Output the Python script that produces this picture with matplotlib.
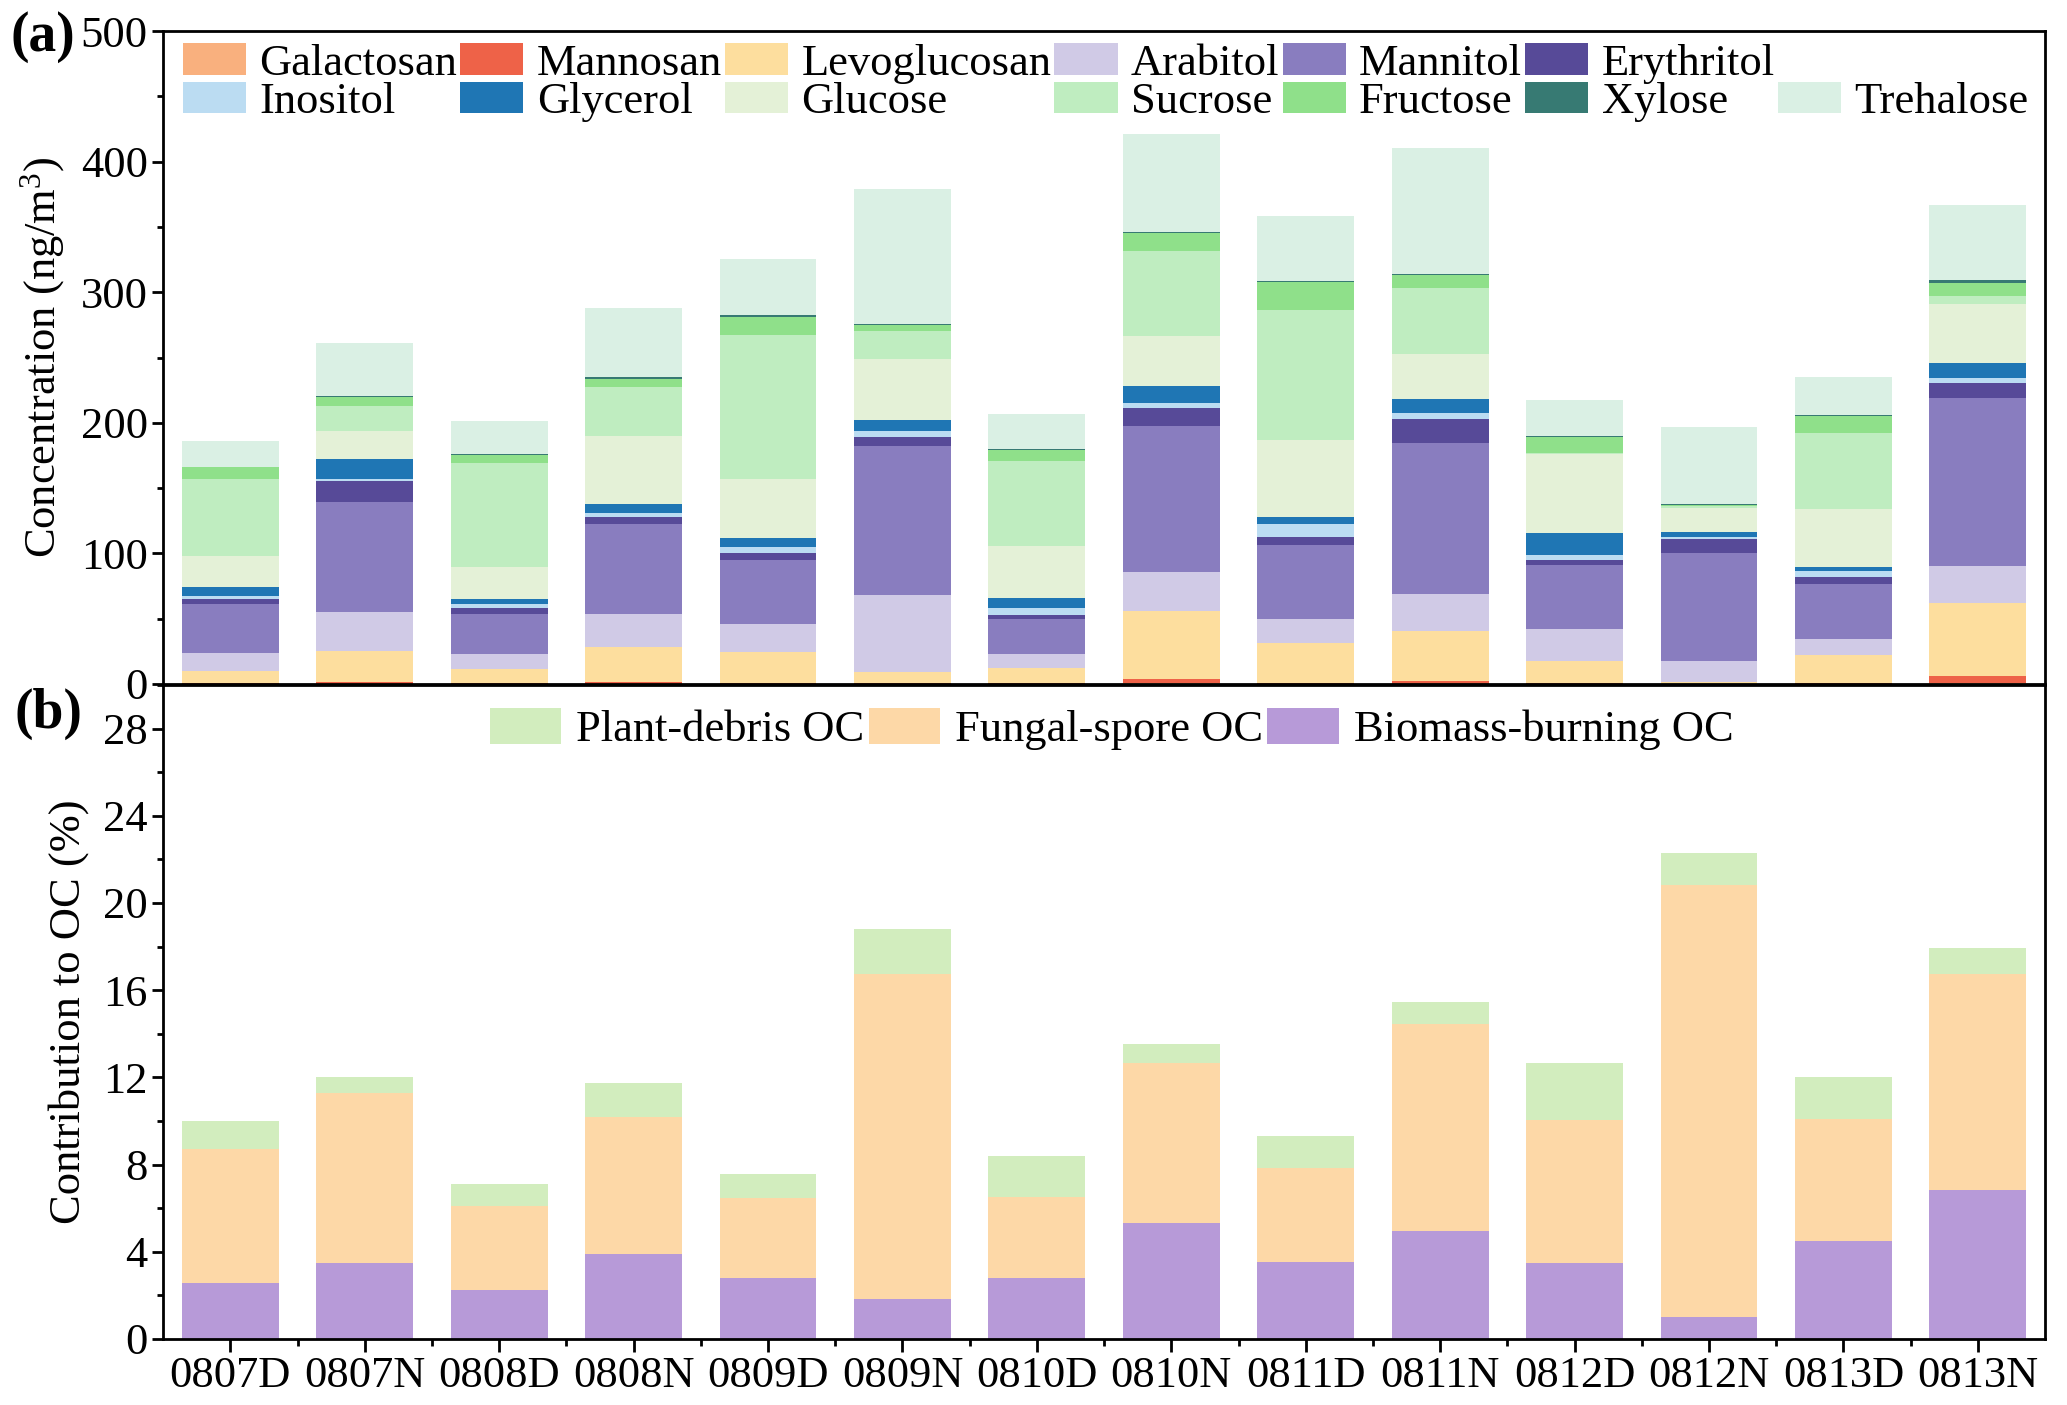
import numpy as np
import matplotlib
matplotlib.use("Agg")
from matplotlib import pyplot as plt
from matplotlib.patches import Rectangle
from matplotlib.ticker import MultipleLocator

plt.rcParams['font.family'] = ['Liberation Serif', 'DejaVu Serif']
plt.rcParams['mathtext.fontset'] = 'custom'
plt.rcParams['mathtext.rm'] = 'Liberation Serif'

samples = ['0807D', '0807N', '0808D', '0808N', '0809D', '0809N', '0810D',
           '0810N', '0811D', '0811N', '0812D', '0812N', '0813D', '0813N']

# panel (a) concentrations, ng/m3 (stacked bottom -> top)
galactosan   = [0.3, 0.3, 0.2, 0.3, 0.3, 0.2, 0.2, 0.5, 0.3, 0.3, 0.2, 0.1, 0.2, 0.5]
mannosan     = [0.3, 1.0, 0.3, 1.0, 0.5, 0.3, 0.3, 3.0, 0.5, 1.7, 0.3, 0.2, 0.3, 5.5]
levoglucosan = [9.7, 23.7, 10.8, 26.7, 23.8, 8.4, 11.8, 52.2, 30.6, 38.3, 17.3, 1.4, 21.7, 55.9]
arabitol     = [13.3, 30.0, 11.7, 25.3, 21.4, 59.5, 10.6, 30.1, 18.5, 28.7, 24.2, 16.1, 12.0, 28.3]
mannitol     = [37.4, 84.0, 30.7, 69.0, 49.0, 113.8, 26.7, 111.7, 56.4, 115.9, 49.3, 82.3, 42.7, 128.5]
erythritol   = [4.0, 16.5, 4.3, 5.2, 5.0, 6.8, 3.4, 13.7, 6.1, 17.8, 3.4, 10.9, 5.1, 12.0]
inositol     = [2.0, 1.5, 3.0, 3.5, 5.0, 4.4, 5.4, 4.1, 10.3, 5.1, 4.4, 1.8, 4.5, 3.4]
glycerol     = [7.0, 15.0, 4.3, 6.7, 6.8, 8.6, 7.2, 13.0, 5.1, 10.2, 16.4, 3.4, 2.7, 11.9]
glucose      = [24.0, 21.5, 24.2, 52.3, 45.2, 46.8, 40.4, 38.3, 58.8, 34.9, 60.9, 18.8, 44.8, 44.8]
sucrose      = [59.0, 19.5, 79.5, 37.6, 110.6, 21.2, 65.0, 65.3, 99.8, 50.6, 0.6, 1.4, 58.0, 6.2]
fructose     = [9.0, 7.0, 6.7, 6.2, 13.4, 5.0, 8.4, 13.3, 21.2, 9.9, 12.0, 1.0, 13.0, 10.2]
xylose       = [0.5, 0.5, 0.6, 1.0, 1.6, 0.8, 0.6, 1.0, 1.0, 0.6, 0.7, 0.3, 1.0, 2.1]
trehalose    = [19.5, 40.5, 24.7, 53.0, 42.8, 102.9, 26.4, 75.2, 49.9, 96.5, 28.0, 58.8, 28.8, 57.4]

# panel (b) contribution to OC, %
biomass_oc = [2.59, 3.50, 2.23, 3.89, 2.78, 1.83, 2.78, 5.33, 3.55, 4.95, 3.50, 1.02, 4.50, 6.82]
fungal_oc  = [6.12, 7.76, 3.85, 6.27, 3.70, 14.91, 3.74, 7.35, 4.27, 9.52, 6.53, 19.82, 5.59, 9.92]
plant_oc   = [1.29, 0.74, 1.04, 1.59, 1.10, 2.06, 1.85, 0.85, 1.51, 0.98, 2.65, 1.45, 1.93, 1.21]

species = [
    ('Galactosan', galactosan, '#F9B07E'),
    ('Mannosan', mannosan, '#EE6248'),
    ('Levoglucosan', levoglucosan, '#FDDE9E'),
    ('Arabitol', arabitol, '#D0CAE6'),
    ('Mannitol', mannitol, '#897DBF'),
    ('Erythritol', erythritol, '#574A98'),
    ('Inositol', inositol, '#BBDCF2'),
    ('Glycerol', glycerol, '#1F76B4'),
    ('Glucose', glucose, '#E4F1D7'),
    ('Sucrose', sucrose, '#BFEDC0'),
    ('Fructose', fructose, '#8FE08A'),
    ('Xylose', xylose, '#377A73'),
    ('Trehalose', trehalose, '#DAF0E4'),
]

FS = 32
x = np.arange(len(samples))
w = 0.72

fig = plt.figure(figsize=(20.67, 14.05), dpi=100)
ax1 = fig.add_axes([0.0789, 0.5132, 0.9105, 0.4647])
ax2 = fig.add_axes([0.0789, 0.0470, 0.9105, 0.4655])

# --- (a)
bottom = np.zeros(len(samples))
handles = {}
for name, vals, col in species:
    vals = np.array(vals)
    b = ax1.bar(x, vals, w, bottom=bottom, color=col, linewidth=0, label=name)
    handles[name] = b
    bottom += vals

# empty slot so Trehalose lands in the second row of the last column
blank = Rectangle((0, 0), 1, 1, visible=False)
order = ['Galactosan', 'Inositol', 'Mannosan', 'Glycerol', 'Levoglucosan', 'Glucose',
         'Arabitol', 'Sucrose', 'Mannitol', 'Fructose', 'Erythritol', 'Xylose', None, 'Trehalose']
h = [handles[n] if n else blank for n in order]
l = [n if n else '' for n in order]
ax1.legend(h, l, ncol=7, loc='upper left', bbox_to_anchor=(0.0106, 0.981),
           frameon=False, fontsize=FS, handlelength=1.42, handleheight=0.7,
           handletextpad=0.3, columnspacing=0.07, labelspacing=-0.03,
           borderpad=0, borderaxespad=0)

ax1.set_xlim(-0.5, 13.5)
ax1.set_ylim(0, 500)
ax1.yaxis.set_major_locator(MultipleLocator(100))
ax1.yaxis.set_minor_locator(MultipleLocator(50))
ax1.set_xticks([])
ax1.set_ylabel(r'Concentration (ng/m$\mathregular{^3}$)', fontsize=FS, labelpad=10)

# --- (b)
ax2.bar(x, biomass_oc, w, color='#B79AD8', linewidth=0, label='Biomass-burning OC')
ax2.bar(x, fungal_oc, w, bottom=biomass_oc, color='#FDD8A7', linewidth=0,
        label='Fungal-spore OC')
ax2.bar(x, plant_oc, w, bottom=np.add(biomass_oc, fungal_oc), color='#D2EDBE',
        linewidth=0, label='Plant-debris OC')
hb, lb = ax2.get_legend_handles_labels()
ax2.legend(hb[::-1], lb[::-1], ncol=3, loc='upper center', bbox_to_anchor=(0.504, 0.965),
           frameon=False, fontsize=FS, handlelength=1.6, handleheight=0.88,
           handletextpad=0.34, columnspacing=0.1, borderpad=0, borderaxespad=0)

ax2.set_xlim(-0.5, 13.5)
ax2.set_ylim(0, 30)
ax2.yaxis.set_major_locator(MultipleLocator(4))
ax2.yaxis.set_minor_locator(MultipleLocator(2))
ax2.set_xticks(x)
ax2.set_xticklabels(samples)
ax2.set_xticks(x[:-1] + 0.5, minor=True)
ax2.set_ylabel('Contribution to OC (%)', fontsize=FS, labelpad=10)

for ax in (ax1, ax2):
    for s in ax.spines.values():
        s.set_linewidth(2)
    ax.tick_params(which='major', direction='out', length=8, width=2,
                   labelsize=FS, pad=3)
    ax.tick_params(which='minor', direction='out', length=4, width=2)
ax2.tick_params(axis='x', which='major', length=9)
ax2.tick_params(axis='x', which='minor', length=5)

fig.text(0.005, 0.974, '(a)', fontsize=40, fontweight='bold', va='center')
fig.text(0.007, 0.492, '(b)', fontsize=40, fontweight='bold', va='center')

fig.savefig('out.png', dpi=100)
